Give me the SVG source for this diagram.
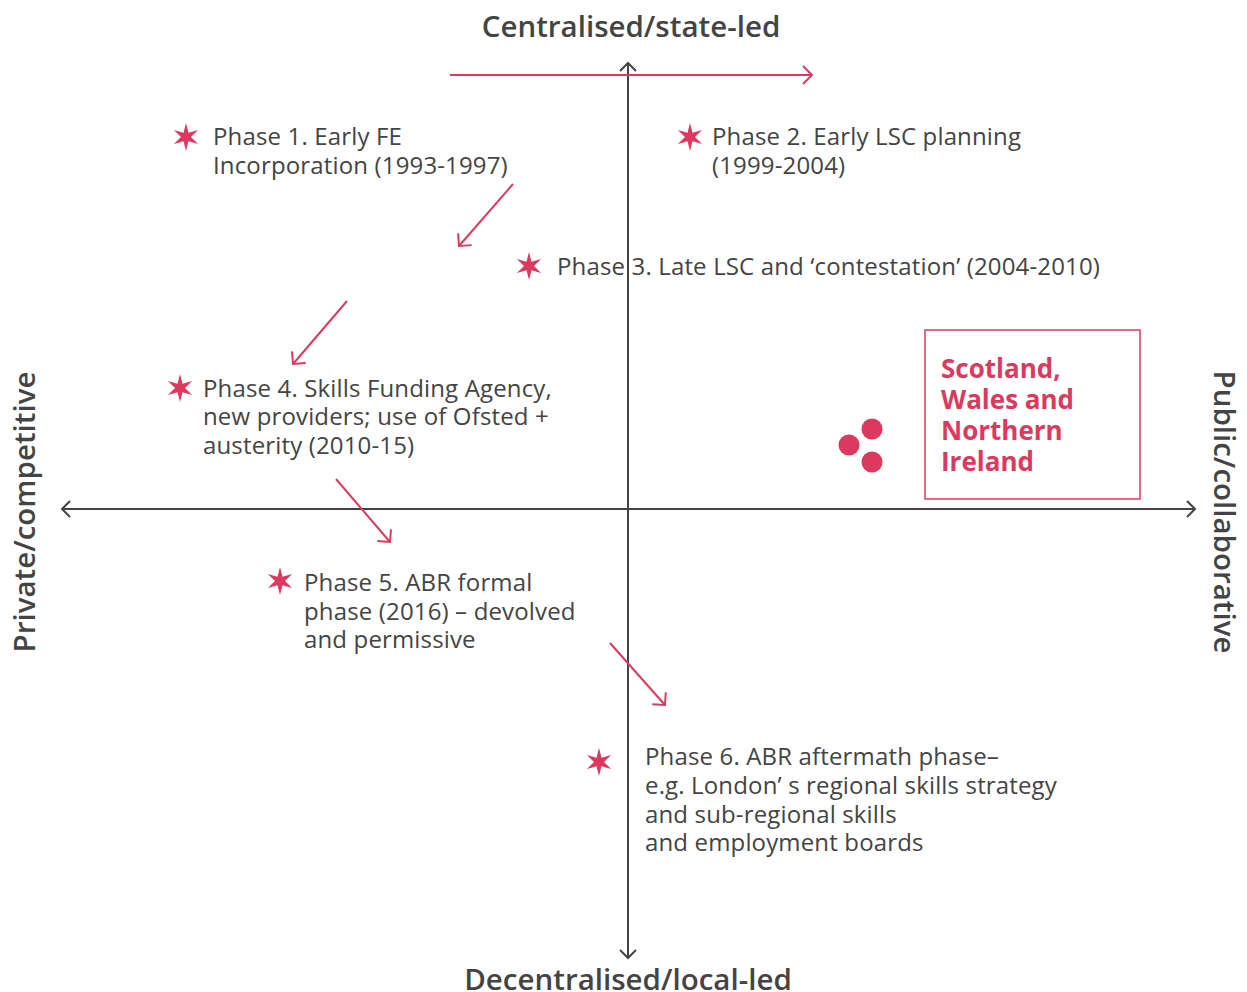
<svg xmlns="http://www.w3.org/2000/svg" width="1247" height="992" viewBox="0 0 1247 992">
<style>
.t{font-family:"Open Sans","Noto Sans","Liberation Sans",sans-serif;font-size:24px;letter-spacing:0.15px;fill:#444}
.h{font-family:"Open Sans","Noto Sans","Liberation Sans",sans-serif;font-size:29.5px;font-weight:600;fill:#444}
.b{font-family:"Open Sans","Noto Sans","Liberation Sans",sans-serif;font-size:26px;font-weight:700;fill:#db3a5e}
.ax{stroke:#444;stroke-width:2;fill:none}
.ra{stroke:#db3a5e;stroke-width:2;fill:none}
.star{fill:#db3a5e}
</style>
<defs>
<marker id="ah" viewBox="0 0 20 20" refX="10" refY="10" markerWidth="20" markerHeight="20" markerUnits="userSpaceOnUse" orient="auto">
<path d="M2,2 L10,10 L2,18" fill="none" stroke="#444" stroke-width="2"/>
</marker>
<marker id="rh" viewBox="0 0 24 24" refX="12" refY="12" markerWidth="24" markerHeight="24" markerUnits="userSpaceOnUse" orient="auto">
<path d="M3,3 L12,12 L3,21" fill="none" stroke="#db3a5e" stroke-width="2"/>
</marker>
<polygon id="st" points="0,-14 2.5,-4.33 12.12,-7 5,0 12.12,7 2.5,4.33 0,14 -2.5,4.33 -12.12,7 -5,0 -12.12,-7 -2.5,-4.33"/>
</defs>
<rect width="1247" height="992" fill="#fff"/>
<g id="axes">
<line class="ax" x1="628" y1="958" x2="628" y2="63" marker-end="url(#ah)"/>
<line class="ax" x1="628" y1="63" x2="628" y2="958" marker-end="url(#ah)"/>
<line class="ax" x1="62" y1="509" x2="1195" y2="509" marker-end="url(#ah)"/>
<line class="ax" x1="1195" y1="509" x2="62" y2="509" marker-end="url(#ah)"/>
</g>
<g id="axis-labels">
<text class="h" x="631" y="37" text-anchor="middle">Centralised/state-led</text>
<text class="h" x="628" y="990" text-anchor="middle">Decentralised/local-led</text>
<text class="h" transform="translate(35,512) rotate(-90)" text-anchor="middle">Private/competitive</text>
<text class="h" transform="translate(1214,512) rotate(90)" text-anchor="middle">Public/collaborative</text>
</g>
<g id="connectors">
<line class="ra" x1="450" y1="75" x2="812" y2="75" marker-end="url(#rh)"/>
<line class="ra" x1="513" y1="184" x2="459" y2="246" marker-end="url(#rh)"/>
<line class="ra" x1="347" y1="301" x2="293" y2="364" marker-end="url(#rh)"/>
<line class="ra" x1="336" y1="479" x2="390" y2="542" marker-end="url(#rh)"/>
<line class="ra" x1="610" y1="643" x2="665" y2="705" marker-end="url(#rh)"/>
</g>
<g id="phase1">
<use href="#st" class="star" x="186" y="137"/>
<text class="t" x="213" y="145">Phase 1. Early FE</text>
<text class="t" x="213" y="174">Incorporation (1993-1997)</text>
</g>
<g id="phase2">
<use href="#st" class="star" x="690" y="137"/>
<text class="t" x="712" y="145">Phase 2. Early LSC planning</text>
<text class="t" x="712" y="174">(1999-2004)</text>
</g>
<g id="phase3">
<use href="#st" class="star" x="529" y="266"/>
<text class="t" x="557" y="275">Phase 3. Late LSC and ‘contestation’ (2004-2010)</text>
</g>
<g id="phase4">
<use href="#st" class="star" x="180" y="388"/>
<text class="t" x="203" y="397">Phase 4. Skills Funding Agency,</text>
<text class="t" x="203" y="425">new providers; use of Ofsted +</text>
<text class="t" x="203" y="454">austerity (2010-15)</text>
</g>
<g id="phase5">
<use href="#st" class="star" x="280" y="581"/>
<text class="t" x="304" y="591">Phase 5. ABR formal</text>
<text class="t" x="304" y="620">phase (2016) – devolved</text>
<text class="t" x="304" y="648">and permissive</text>
</g>
<g id="phase6">
<use href="#st" class="star" x="599" y="762"/>
<text class="t" x="645" y="765">Phase 6. ABR aftermath phase–</text>
<text class="t" x="645" y="794">e.g. London’ s regional skills strategy</text>
<text class="t" x="645" y="823">and sub-regional skills</text>
<text class="t" x="645" y="851">and employment boards</text>
</g>
<g id="devolved">
<circle cx="872" cy="429" r="10.5" fill="#db3a5e"/>
<circle cx="849" cy="445" r="10.5" fill="#db3a5e"/>
<circle cx="872" cy="462" r="10.5" fill="#db3a5e"/>
<rect x="925" y="330" width="215" height="169" fill="none" stroke="#db3a5e" stroke-width="1.5"/>
<text class="b" x="941" y="378">Scotland,</text>
<text class="b" x="941" y="409">Wales and</text>
<text class="b" x="941" y="440">Northern</text>
<text class="b" x="941" y="471">Ireland</text>
</g>
</svg>
